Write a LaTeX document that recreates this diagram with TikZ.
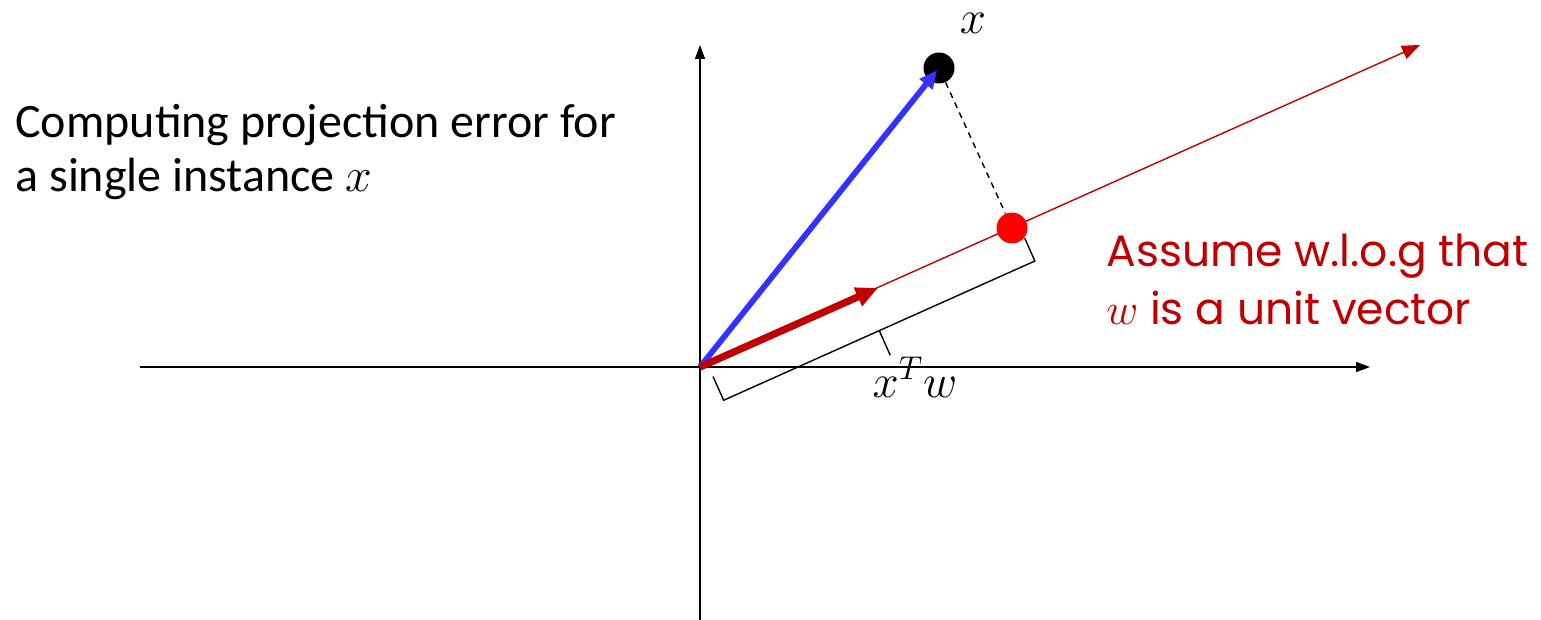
\RequirePackage{fix-cm}
\documentclass[tikz,border=0pt]{standalone}
\usepackage{fontspec}
\setmainfont{Carlito}
\newfontfamily\casualfont{Poppins}
\usetikzlibrary{arrows.meta}
\definecolor{darkred}{RGB}{192,0,0}
\definecolor{vecblue}{RGB}{51,51,255}
\definecolor{dotred}{RGB}{255,0,0}

\begin{document}
\begin{tikzpicture}[
  x=0.5pt, y=-0.5pt,
  axis/.style={line width=0.8pt, -{Triangle[length=7pt, width=5pt]}},
  wline/.style={draw=darkred, line width=0.7pt, -{Triangle[length=9pt, width=7pt]}},
  wvec/.style={draw=darkred, line width=3.6pt, -{Triangle[length=11pt, width=9.5pt]}},
  xvec/.style={draw=vecblue, line width=2.9pt, -{Triangle[length=9pt, width=8pt]}, shorten >=1.5pt},
  dot/.style={circle, inner sep=0pt, minimum size=15.5pt},
  proj/.style={dashed, dash pattern=on 3pt off 2.5pt, line width=0.7pt},
  bracket/.style={line width=0.7pt},
  mathlbl/.style={font=\fontsize{23.5}{28}\selectfont, inner sep=0pt},
]

% === Frame ===
\useasboundingbox (0,0) rectangle (1541,620);

% === Points ===
\coordinate (o) at (700,367);
\coordinate (xleft) at (140,367);
\coordinate (xright) at (1370,367);
\coordinate (ybottom) at (700,620);
\coordinate (ytop) at (700,45);
\coordinate (wend) at (1420,45);
\coordinate (wtip) at (878,288);

% === Axes ===
\draw[axis] (xleft) -- (xright);
\draw[axis] (ybottom) -- (ytop);

% === Direction w ===
\draw[wline] (o) -- (wend);

% === Instance and its projection ===
\node[dot, fill=black] (xpt) at (939,68) {};
\node[dot, fill=dotred] (xproj) at (1012,228) {};
\draw[proj] (xpt) -- (xproj);

\draw[xvec] (o) -- (xpt.center);
\draw[wvec] (o) -- (wtip);

% === Length bracket along w ===
\begin{scope}[shift={(o)}, rotate=24.1]
  \draw[bracket] (8,14) -- (8,40) -- (349,40) -- (349,15);
  \draw[bracket] (178.5,40) -- (178.5,67);
\end{scope}

% === Labels ===
\node[mathlbl, anchor=base] (xlbl) at (973,34) {$x$};
\node[mathlbl, anchor=base] (xtwlbl) at (915,397) {$x^T w$};

\node[anchor=base west, align=left, inner sep=0pt,
      font=\fontsize{24}{27}\selectfont] (title) at (15,192)
  {Computing projection error for\\a single instance $x$};

\node[anchor=base west, align=left, inner sep=0pt, text=darkred,
      font=\casualfont\fontsize{22}{29}\selectfont] (note) at (1106,324)
  {Assume w.l.o.g that\\$w$ is a unit vector};

\end{tikzpicture}
\end{document}
